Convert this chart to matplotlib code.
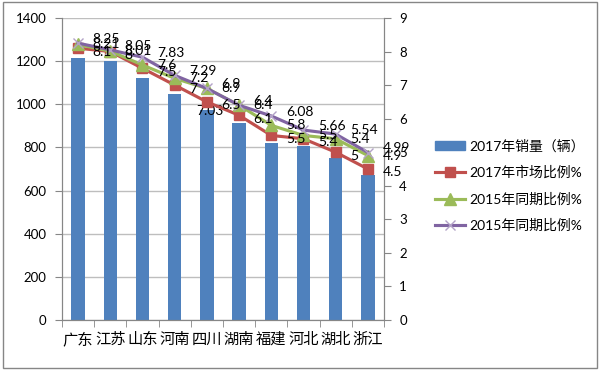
import matplotlib
matplotlib.use("Agg")
import matplotlib.pyplot as plt
from matplotlib.patches import Rectangle
from matplotlib.lines import Line2D
import numpy as np

plt.rcParams['font.family'] = ['Lato', 'Noto Sans CJK SC', 'DejaVu Sans']

provinces = ["广东", "江苏", "山东", "河南", "四川", "湖南", "福建", "河北", "湖北", "浙江"]
sales_2017 = [1213, 1200, 1120, 1046, 975, 912, 822, 807, 750, 672]
share_2017 = [8.1, 8.0, 7.5, 7.0, 6.5, 6.1, 5.5, 5.4, 5.0, 4.5]
share_2015_a = [8.21, 8.01, 7.6, 7.2, 6.9, 6.4, 5.8, 5.5, 5.4, 4.9]
share_2015_b = [8.25, 8.05, 7.83, 7.29, 6.9, 6.4, 6.08, 5.66, 5.54, 4.99]
extra_label = "7.03"

names = ["2017年销量（辆）", "2017年市场比例%", "2015年同期比例%", "2015年同期比例%"]

fig = plt.figure(figsize=(6, 3.7), dpi=100)
ax = fig.add_axes([0.1033, 0.1351, 0.5367, 0.8163])
ax2 = ax.twinx()

x = np.arange(len(provinces))
ax.bar(x, sales_2017, width=0.42, color="#4F81BD", zorder=2)
ax.set_xlim(-0.5, len(provinces) - 0.5)
ax.set_ylim(0, 1400)
ax.set_yticks(range(0, 1401, 200))
ax.grid(axis="y", color="#BEBEBE", linewidth=1, zorder=0)
ax.set_axisbelow(True)
ax.set_xticks(x)
ax.set_xticklabels(provinces, fontsize=11)
ax.set_xticks(np.arange(-0.5, len(provinces)), minor=True)
ax.tick_params(axis="x", which="major", length=0, pad=9)
ax.tick_params(axis="x", which="minor", length=5, color="#868686")
ax.tick_params(axis="y", length=5, color="#868686", labelsize=9.5, pad=6)
ax.annotate(extra_label, (4, sales_2017[4]), xytext=(2, -1), textcoords="offset points",
            ha="center", va="center", fontsize=10)

ax2.set_ylim(0, 9)
ax2.set_yticks(range(0, 10))
ax2.tick_params(axis="y", length=5, color="#868686", labelsize=9.5, pad=6)

for a in (ax, ax2):
    a.spines["top"].set_visible(False)
    for s in ("left", "right", "bottom"):
        a.spines[s].set_color("#868686")

# (values, colour, marker, size, name, label dy in points)
series = [
    (share_2017, "#C0504D", "s", 7, names[1], -2.5),
    (share_2015_a, "#9BBB59", "^", 8, names[2], 0),
    (share_2015_b, "#8064A2", "x", 7, names[3], 3),
]
handles = [Rectangle((0, 0), 1, 1, color="#4F81BD")]
for vals, col, mk, ms, nm, dy in series:
    if mk == "x":
        ax2.plot(x, vals, color=col, lw=2.25, marker=mk, ms=ms, mec="#B3A2C7", mew=1, zorder=3)
        handles.append(Line2D([], [], color=col, lw=2.25, marker=mk, ms=ms, mec="#B3A2C7", mew=1))
    else:
        ax2.plot(x, vals, color=col, lw=2.25, marker=mk, ms=ms, mfc=col, mec=col, zorder=3)
        handles.append(Line2D([], [], color=col, lw=2.25, marker=mk, ms=ms, mfc=col, mec=col))
    for xi, v in zip(x, vals):
        ax2.annotate(f"{v:g}", (xi, v), xytext=(10.5, dy), textcoords="offset points",
                     ha="left", va="center", fontsize=10, zorder=4)

fig.legend(handles, names, loc="center left", bbox_to_anchor=(0.713, 0.4986),
           frameon=False, fontsize=10, handlelength=2.2, labelspacing=0.95,
           borderpad=0, handletextpad=0.3)

fig.patches.append(Rectangle((0.005, 0.006), 0.99, 0.988, transform=fig.transFigure,
                             fill=False, edgecolor="#868686", linewidth=1))

fig.savefig("out.png", dpi=100)
